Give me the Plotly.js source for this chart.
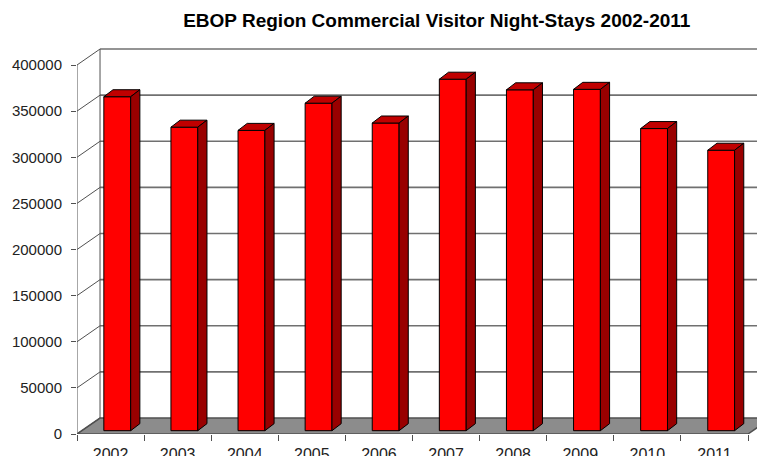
<!DOCTYPE html>
<html>
<head>
<meta charset="utf-8">
<script src="https://cdn.plot.ly/plotly-3.0.1.min.js"></script>
<style>html,body{margin:0;padding:0;background:#fff;}#chart{width:757px;height:456px;}</style>
</head>
<body>
<div id="chart"></div>
<script>
// ---- data ----
const years = ['2002','2003','2004','2005','2006','2007','2008','2009','2010','2011'];
const nightStays = [362000, 329000, 325500, 355000, 333500, 381000, 369500, 370000, 327500, 304000];
const yTickValues = [0, 50000, 100000, 150000, 200000, 250000, 300000, 350000, 400000];
const chartTitle = 'EBOP Region Commercial Visitor Night-Stays 2002-2011';

// ---- pseudo-3D geometry (in axis units) ----
const wallDX = 0.343, wallDY = 17300;   // depth of back wall
const barDX = 0.137, barDY = 7600;      // depth of each column
const barBase = 3600, barLeft = 0.40, barW = 0.40;
const xMax = 10.134, nCat = years.length;

const traces = [];
traces.push({
  type: 'bar',
  x: years.map((_, i) => i + barLeft + barW / 2),
  y: nightStays,
  base: years.map(() => barBase),
  width: barW,
  marker: {color: '#ff0000', line: {color: '#000', width: 1}},
  hoverinfo: 'skip', showlegend: false
});
nightStays.forEach((v, i) => {
  const x0 = i + barLeft, x1 = x0 + barW, yb = barBase, yt = barBase + v;
  traces.push({ // top face
    type: 'scatter', mode: 'lines', fill: 'toself', fillcolor: '#c00000',
    line: {color: '#000', width: 1}, hoverinfo: 'skip', showlegend: false,
    x: [x0, x1, x1 + barDX, x0 + barDX, x0],
    y: [yt, yt, yt + barDY, yt + barDY, yt]
  });
  traces.push({ // side face
    type: 'scatter', mode: 'lines', fill: 'toself', fillcolor: '#990000',
    line: {color: '#000', width: 1}, hoverinfo: 'skip', showlegend: false,
    x: [x1, x1, x1 + barDX, x1 + barDX, x1],
    y: [yb, yt, yt + barDY, yb + barDY, yb]
  });
});

const shapes = [];
// floor
shapes.push({type: 'path', layer: 'below', xref: 'x', yref: 'y',
  path: `M 0 0 L ${nCat} 0 L ${nCat + wallDX} ${wallDY} L ${wallDX} ${wallDY} Z`,
  fillcolor: '#8c8c8c', line: {color: '#505050', width: 1.5}});
// back-wall gridlines + left-wall diagonals
yTickValues.forEach(v => {
  if (v > 0) shapes.push({type: 'line', layer: 'below', xref: 'x', yref: 'y',
    x0: wallDX, x1: xMax + 1, y0: v + wallDY, y1: v + wallDY,
    line: {color: '#707070', width: 1.6}});
  shapes.push({type: 'line', layer: 'below', xref: 'x', yref: 'y',
    x0: 0, x1: wallDX, y0: v, y1: v + wallDY, line: {color: '#505050', width: 1}});
});
const yTop = yTickValues[yTickValues.length - 1];
// back wall vertical edge
shapes.push({type: 'line', layer: 'below', xref: 'x', yref: 'y',
  x0: wallDX, x1: wallDX, y0: wallDY, y1: yTop + wallDY, line: {color: '#505050', width: 1}});
// front vertical axis line
shapes.push({type: 'line', layer: 'below', xref: 'x', yref: 'y',
  x0: 0, x1: 0, y0: 0, y1: yTop, line: {color: '#505050', width: 1}});

const layout = {
  width: 757, height: 456,
  margin: {l: 77, r: 0, t: 40, b: 22},
  paper_bgcolor: '#fff', plot_bgcolor: '#fff',
  font: {family: 'Liberation Sans, Arial, sans-serif', size: 15, color: '#222'},
  title: {text: '<b>' + chartTitle + '</b>', font: {size: 19, color: '#000'},
          x: 0.577, xref: 'container', xanchor: 'center', y: 0.956, yref: 'container', yanchor: 'middle'},
  xaxis: {range: [0, xMax], showgrid: false, zeroline: false, showline: false,
          tickmode: 'array', tickvals: years.map((_, i) => i + 0.5), ticktext: years,
          ticks: '', ticklabelstandoff: 9, tickfont: {size: 16, color: '#222'},
          minor: {tickmode: 'linear', tick0: 0, dtick: 1, ticks: 'outside', ticklen: 6, tickcolor: '#505050', tickwidth: 1}},
  yaxis: {range: [0, 427100], showgrid: false, zeroline: false, showline: false,
          tickmode: 'array', tickvals: yTickValues, ticktext: yTickValues.map(String),
          ticks: 'outside', ticklen: 5, tickcolor: '#505050', tickwidth: 1,
          ticklabelstandoff: 6, tickfont: {size: 15, color: '#222'}},
  shapes: shapes,
  bargap: 0, showlegend: false
};
Plotly.newPlot('chart', traces, layout, {displayModeBar: false, staticPlot: true});
</script>
</body>
</html>
